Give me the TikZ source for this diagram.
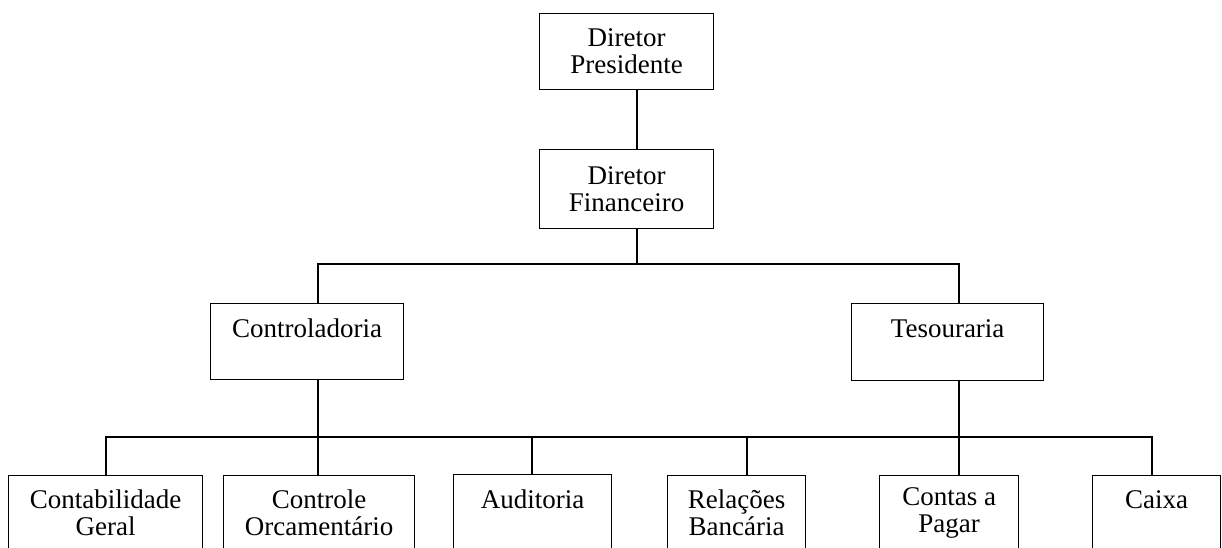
\documentclass[tikz,border=0pt]{standalone}
\usepackage{fontspec}
\setmainfont{Liberation Serif}
\tikzset{
  box/.style={draw, line width=1.3pt, inner sep=0pt, align=center, anchor=north west,
    font=\fontsize{27}{27}\selectfont},
  link/.style={line width=1.3pt, line cap=rect},
}
\begin{document}
\begin{tikzpicture}[x=1pt,y=-1pt]
\useasboundingbox (0,0) rectangle (1222,547);
\clip (0,0) rectangle (1222,547);
% boxes
\node[box, minimum width=174pt, minimum height=76pt] (pres) at (539,13) {Diretor\\Presidente};
\node[box, minimum width=174pt, minimum height=79pt] (fin) at (539,149) {Diretor\\Financeiro};
\node[box, minimum width=193pt, minimum height=76pt] (ctrl) at (210,303) {Controladoria\\\mbox{}};
\node[box, minimum width=192pt, minimum height=77pt] (tes) at (851,303) {Tesouraria\\\mbox{}};
\node[box, minimum width=194pt, minimum height=75pt] (cg) at (8,475) {Contabilidade\\Geral};
\node[box, minimum width=191pt, minimum height=75pt] (co) at (223,475) {Controle\\Orcamentário};
\node[box, minimum width=158pt, minimum height=76pt] (aud) at (453,474) {Auditoria\\\mbox{}};
\node[box, minimum width=138pt, minimum height=75pt] (rb) at (667,475) {Relações\\Bancária};
\node[box, minimum width=139pt, minimum height=75pt] (cp) at (879,475) {Contas a\\Pagar};
\node[box, minimum width=128pt, minimum height=75pt] (cx) at (1092,475) {Caixa\\\mbox{}};
% bus coordinates
\coordinate (xa) at (637,0);
\coordinate (b1l) at (318,264);
\coordinate (b1r) at (959,264);
\coordinate (b2a) at (106,437);
\coordinate (b2f) at (1152,437);
\coordinate (d3) at (532,437);
\coordinate (d4) at (747,437);
% connectors
\draw[link] (pres.south -| xa) -- (fin.north -| xa);
\draw[link] (fin.south -| xa) -- (xa |- b1l);
\draw[link] (ctrl.north -| b1l) -- (b1l) -- (b1r) -- (tes.north -| b1r);
\draw[link] (ctrl.south -| b1l) -- (co.north -| b1l);
\draw[link] (tes.south -| b1r) -- (cp.north -| b1r);
\draw[link] (cg.north -| b2a) -- (b2a) -- (b2f) -- (cx.north -| b2f);
\draw[link] (d3) -- (aud.north -| d3);
\draw[link] (d4) -- (rb.north -| d4);
\end{tikzpicture}
\end{document}
